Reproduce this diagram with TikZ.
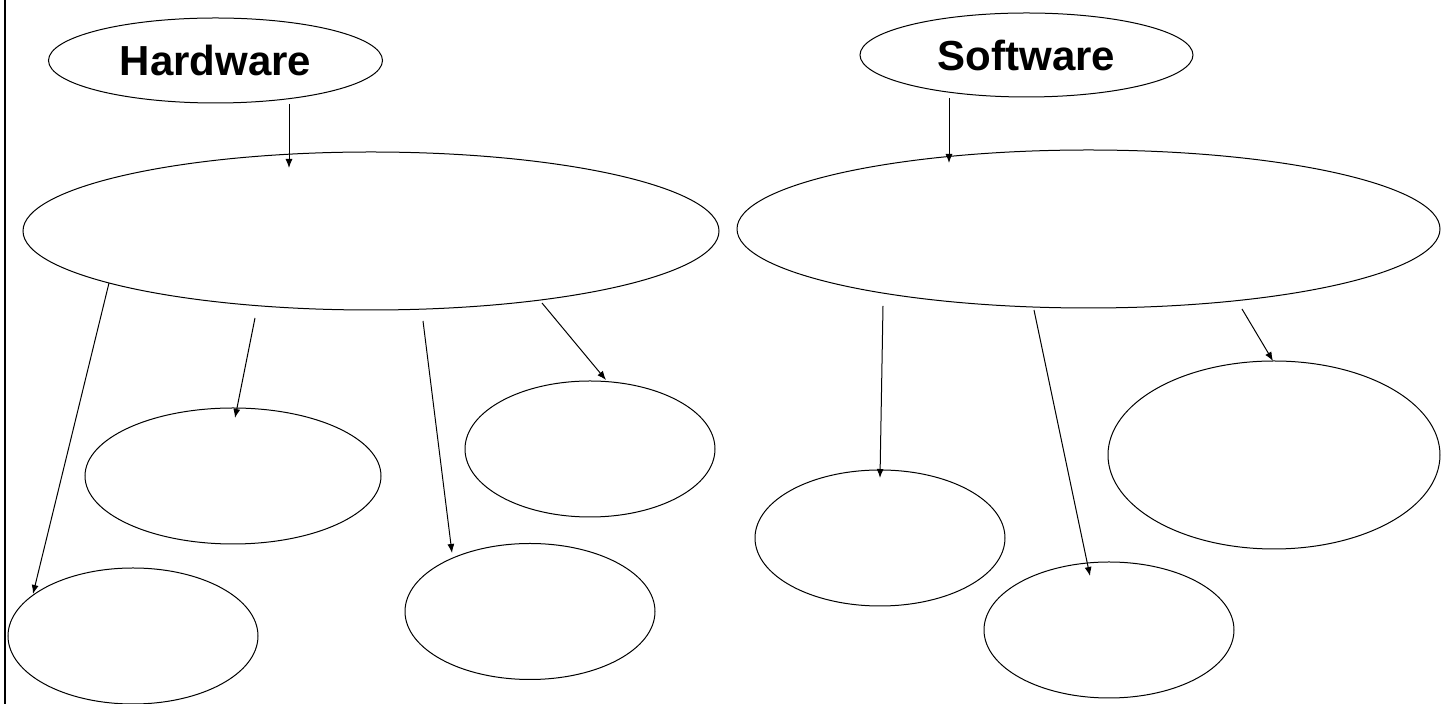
\documentclass[tikz,border=0pt]{standalone}
\usepackage{fontspec}
\setmainfont{Liberation Sans}
\usetikzlibrary{shapes.geometric,arrows.meta}

\begin{document}
\begin{tikzpicture}[x=0.5pt,y=-0.5pt]

%
% Styles
%
\tikzstyle{blob} = [ellipse,draw=black,line width=0.5pt,inner sep=0pt,outer sep=0pt]
\tikzstyle{title} = [blob,font=\bfseries\fontsize{21}{24}\selectfont]
\tikzstyle{link} = [-{Latex[length=4.5pt,width=3.5pt]},line width=0.5pt]

\useasboundingbox (0,0) rectangle (1453,704);
\draw[line width=1pt] (5,0) -- (5,704);

% hardware side
\node[title,minimum width=167pt,minimum height=42.5pt] (hw) at (215.5,60.5) {Hardware};
\node[blob,minimum width=348pt,minimum height=79pt] (hwmain) at (371,231) {};
\node[blob,minimum width=148pt,minimum height=68pt] (hwa) at (233,476) {};
\node[blob,minimum width=125pt,minimum height=68pt] (hwb) at (590,449) {};
\node[blob,minimum width=125pt,minimum height=68pt] (hwc) at (133,636) {};
\node[blob,minimum width=125pt,minimum height=68pt] (hwd) at (530,611.5) {};

% software side
\node[title,minimum width=166.5pt,minimum height=42pt] (sw) at (1026.5,55) {Software};
\node[blob,minimum width=351.5pt,minimum height=79pt] (swmain) at (1088.5,229) {};
\node[blob,minimum width=125pt,minimum height=68pt] (swa) at (880,538) {};
\node[blob,minimum width=166pt,minimum height=94pt] (swb) at (1274,455) {};
\node[blob,minimum width=125pt,minimum height=68pt] (swc) at (1109,630) {};

% arrow ends
\coordinate (hwtop) at (289,104);
\coordinate (hwin) at (289,168);
\coordinate (hw1) at (109,283);
\coordinate (hw1e) at (33,594);
\coordinate (hw2) at (255,318);
\coordinate (hw2e) at (235,418);
\coordinate (hw3) at (423,321);
\coordinate (hw3e) at (452,553);
\coordinate (hw4) at (542,303);
\coordinate (hw4e) at (606,380);
\coordinate (swtop) at (949,98);
\coordinate (swin) at (949,163);
\coordinate (sw1) at (883,306);
\coordinate (sw1e) at (880,478);
\coordinate (sw2) at (1034,310);
\coordinate (sw2e) at (1090,576);
\coordinate (sw3) at (1242,309);
\coordinate (sw3e) at (1273,361);

\draw[link] (hwtop) -- (hwin);
\draw[link] (hw1) -- (hw1e);
\draw[link] (hw2) -- (hw2e);
\draw[link] (hw3) -- (hw3e);
\draw[link] (hw4) -- (hw4e);
\draw[link] (swtop) -- (swin);
\draw[link] (sw1) -- (sw1e);
\draw[link] (sw2) -- (sw2e);
\draw[link] (sw3) -- (sw3e);

\end{tikzpicture}
\end{document}
